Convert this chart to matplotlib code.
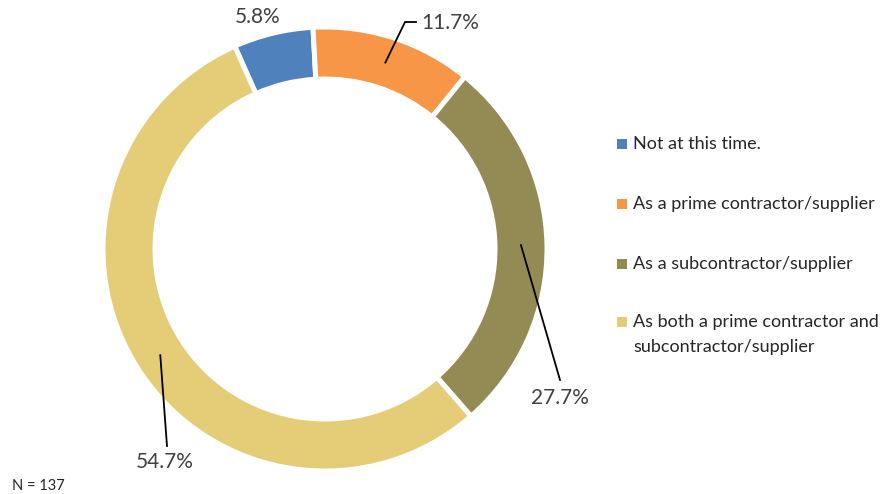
import numpy as np
import matplotlib.pyplot as plt

# survey responses (share of respondents, %)
labels = ["Not at this time.",
          "As a prime contractor/supplier",
          "As a subcontractor/supplier",
          "As both a prime contractor and\nsubcontractor/supplier"]
shares = [5.8, 11.7, 27.7, 54.7]
colors = ["#4F81BD", "#F79646", "#948A54", "#E5CD78"]
n_total = 137

plt.rcParams['font.family'] = ['Lato', 'DejaVu Sans']

W, H = 886, 494
fig = plt.figure(figsize=(W / 100, H / 100), dpi=100)
ax = fig.add_axes([0, 0, 1, 1])

cx, cy = 325, H - 249
r_out, ring = 222, 52
start = 90 + 24  # first slice begins a little left of 12 o'clock

wedges, _ = ax.pie(shares, colors=colors, startangle=start, counterclock=False,
                   radius=r_out, center=(cx, cy),
                   wedgeprops=dict(width=ring, edgecolor="white", linewidth=3.6))
ax.set_xlim(0, W)
ax.set_ylim(0, H)
ax.set_aspect("equal")
ax.axis("off")

# percentage labels, some with leader lines from the middle of the ring
label_pos = [(258, H - 17), (450, H - 23), (560, H - 398), (165, H - 462)]
elbows = [None, [(405, H - 22), (416, H - 22)], [(560, H - 380)], [(167, H - 446)]]
cum = np.cumsum([0] + shares)
r_mid = r_out - ring / 2
for i, v in enumerate(shares):
    ax.text(*label_pos[i], f"{v:.1f}%", fontsize=15, color="#404040",
            ha="center", va="center")
    if elbows[i] is None:
        continue
    mid = np.deg2rad(start - (cum[i] + cum[i + 1]) / 2 / 100 * 360)
    pts = [(cx + r_mid * np.cos(mid), cy + r_mid * np.sin(mid))] + elbows[i]
    xs, ys = zip(*pts)
    ax.plot(xs, ys, color="black", lw=1.3)

# legend: square marker + text, wrapped labels get 25px line pitch
leg_y = [144, 204, 264, 322]
for i, lab in enumerate(labels):
    y = H - leg_y[i]
    ax.add_patch(plt.Rectangle((617, y - 5), 10, 10, facecolor=colors[i], edgecolor="none"))
    for k, line in enumerate(lab.split("\n")):
        ax.text(633, y - 25 * k, line, fontsize=13, color="#262626",
                ha="left", va="center")

ax.text(12, H - 486, f"N = {n_total}", fontsize=10.5, color="#262626", ha="left", va="center")

fig.savefig("out.png", dpi=100)
